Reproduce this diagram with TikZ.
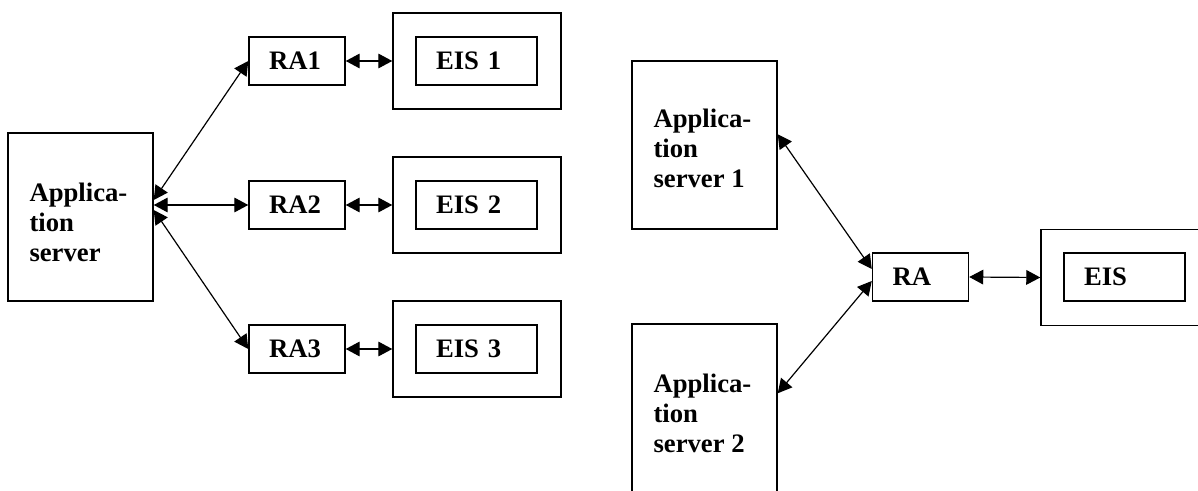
\documentclass[tikz,border=0pt]{standalone}
\usepackage{fontspec}
\setmainfont{Liberation Serif}
\usetikzlibrary{arrows.meta,calc}
\begin{document}
\begin{tikzpicture}[x=0.75pt,y=-0.75pt,
  box/.style={draw, line width=1.1pt, inner sep=0pt},
  lbl/.style={font=\fontsize{20pt}{22.5pt}\selectfont\bfseries, align=left},
  small/.style={box, lbl, minimum height=36pt, inner xsep=15pt, inner ysep=0pt},
  rabox/.style={small, text width=42pt},
  eisbox/.style={small, text width=60.75pt},
  eisframe/.style={box, minimum width=126pt, minimum height=72pt},
  srvbox/.style={box, minimum width=108.75pt, minimum height=126pt},
  srvtext/.style={lbl, inner sep=0pt, anchor=base west},
  link/.style={line width=0.9pt, {Triangle[length=10.5pt,width=11pt]}-{Triangle[length=10.5pt,width=11pt]}}
]
\useasboundingbox (0,0) rectangle (1198,491);
\clip (0,0) rectangle (1198,491);

% ---- one application server, three resource adapters ----
\node[srvbox] (as) at (80.5,217) {};
\node[srvtext] (ast) at ($(as.north west)+(22,129)$) {Applica-\\tion\\server};

\node[rabox] (ra1) at (297,61) {RA1};
\node[rabox] (ra2) at (297,205) {RA2};
\node[rabox] (ra3) at (297,349) {RA3};

\node[eisframe] (eo1) at (477,61) {};
\node[eisframe] (eo2) at (477,205) {};
\node[eisframe] (eo3) at (477,349) {};
\node[eisbox] (ei1) at (476.5,61) {EIS 1};
\node[eisbox] (ei2) at (476.5,205) {EIS 2};
\node[eisbox] (ei3) at (476.5,349) {EIS 3};

\draw[link] ($(as.east |- ra2.west)+(0,-5)$) -- (ra1.west);
\draw[link] (as.east |- ra2.west) -- (ra2.west);
\draw[link] ($(as.east |- ra2.west)+(0,5)$) -- (ra3.west);
\draw[link] (ra1.east) -- (eo1.west);
\draw[link] (ra2.east) -- (eo2.west);
\draw[link] (ra3.east) -- (eo3.west);

% ---- two application servers sharing one resource adapter ----
\node[srvbox] (as1) at (704.5,145) {};
\node[srvtext] (as1t) at ($(as1.north west)+(22,127)$) {Applica-\\tion\\server 1};
\node[srvbox, minimum height=135pt] (as2) at (704.5,414) {};
\node[srvtext] (as2t) at ($(as2.north west)+(22,129)$) {Applica-\\tion\\server 2};

\node[rabox] (ra) at (920.5,277) {RA};
\node[eisframe] (eo) at (1125,277.5) {};
\node[eisbox] (ei) at (1124.5,277) {EIS};

\draw[link] ($(as1.north east)+(0,74)$) -- ($(ra.west)+(0,-8)$);
\draw[link] ($(as2.north east)+(0,70)$) -- ($(ra.west)+(0,4)$);
\draw[link] (ra.east) -- (eo.west);
\end{tikzpicture}
\end{document}
